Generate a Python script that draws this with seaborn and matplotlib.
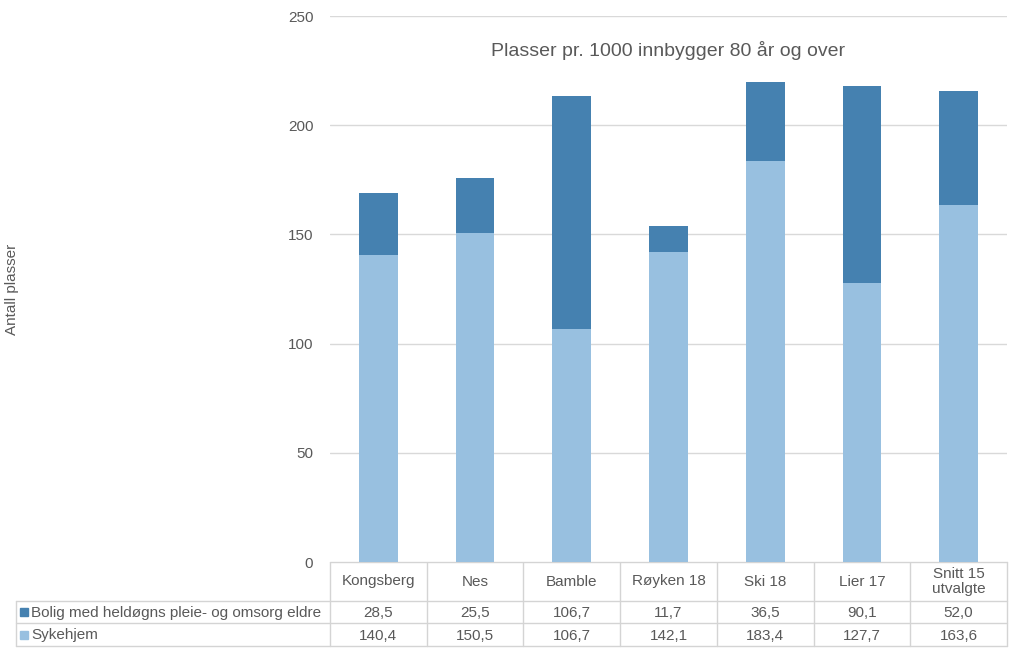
import matplotlib
matplotlib.use("Agg")
import matplotlib.pyplot as plt
import seaborn as sns
import pandas as pd
from matplotlib.patches import Rectangle

categories = ["Kongsberg", "Nes", "Bamble", "Røyken 18", "Ski 18", "Lier 17", "Snitt 15\nutvalgte"]
bolig = [28.5, 25.5, 106.7, 11.7, 36.5, 90.1, 52.0]
sykehjem = [140.4, 150.5, 106.7, 142.1, 183.4, 127.7, 163.6]
series_names = ["Bolig med heldøgns pleie- og omsorg eldre", "Sykehjem"]
yticks = [0, 50, 100, 150, 200, 250]
title = "Plasser pr. 1000 innbygger 80 år og over"
ylabel = "Antall plasser"

DARK = "#4581b0"
LIGHT = "#98c0e0"
TXT = "#595959"
GRID = "#d9d9d9"
BORDER = "#d4d4d4"

sns.set_theme(style="white")
plt.rcParams["font.family"] = ["Liberation Sans", "DejaVu Sans"]

W, H = 1024, 669
fig = plt.figure(figsize=(W / 100, H / 100), dpi=100)

def fx(px):
    return px / W

def fy(py):
    return 1 - py / H

L, R, T, B = 330, 1007, 16, 562
ax = fig.add_axes([fx(L), fy(B), fx(R - L), fy(T) - fy(B)])

df = pd.DataFrame({"cat": categories, "bolig": bolig, "syk": sykehjem})
df["total"] = df["bolig"] + df["syk"]

sns.barplot(data=df, x="cat", y="total", color=DARK, saturation=1, width=0.4, ax=ax, zorder=3, linewidth=0)
sns.barplot(data=df, x="cat", y="syk", color=LIGHT, saturation=1, width=0.4, ax=ax, zorder=4, linewidth=0)

ax.set_ylim(0, 250)
ax.set_xlim(-0.5, len(categories) - 0.5)
ax.set_yticks(yticks)
ax.set_yticklabels([str(v) for v in yticks], fontsize=11, color=TXT)
ax.tick_params(axis="y", length=0, pad=12)
ax.set_xticks([])
ax.set_xlabel("")
ax.set_ylabel("")
ax.grid(axis="y", color=GRID, linewidth=1, zorder=0)
for s in ax.spines.values():
    s.set_visible(False)

ax.text(0.5, (B - 50) / (B - T), title, transform=ax.transAxes, ha="center", va="center", fontsize=14, color=TXT)

fig.text(fx(12), fy((T + B) / 2), ylabel, rotation=90, ha="center", va="center", fontsize=11, color=TXT)

# data table
tab = fig.add_axes([0, 0, 1, 1], zorder=-1)
tab.set_xlim(0, W)
tab.set_ylim(H, 0)
tab.axis("off")

n = len(categories)
colw = (R - L) / n
TL = 16
y0, y1, y2, y3 = 562, 601, 623, 646

lk = dict(color=BORDER, linewidth=1)
tab.plot([L, R], [y0, y0], **lk)
tab.plot([TL, R], [y1, y1], **lk)
tab.plot([TL, R], [y2, y2], **lk)
tab.plot([TL, R], [y3, y3], **lk)
tab.plot([TL, TL], [y1, y3], **lk)
for i in range(n + 1):
    x = L + i * colw
    tab.plot([x, x], [y0, y3], **lk)

fs = 11
for i, c in enumerate(categories):
    cx = L + (i + 0.5) * colw
    tab.text(cx, (y0 + y1) / 2, c, ha="center", va="center", fontsize=fs, color=TXT, linespacing=1.15)
    tab.text(cx, (y1 + y2) / 2 + 1, f"{bolig[i]:.1f}".replace(".", ","), ha="center", va="center", fontsize=fs, color=TXT)
    tab.text(cx, (y2 + y3) / 2 + 1, f"{sykehjem[i]:.1f}".replace(".", ","), ha="center", va="center", fontsize=fs, color=TXT)

for name, col, (ya, yb) in [(series_names[0], DARK, (y1, y2)), (series_names[1], LIGHT, (y2, y3))]:
    ym = (ya + yb) / 2
    tab.add_patch(Rectangle((20, ym - 4), 8, 8, color=col))
    tab.text(31, ym + 1, name, ha="left", va="center", fontsize=fs, color=TXT)

fig.savefig("out.png", dpi=100)
